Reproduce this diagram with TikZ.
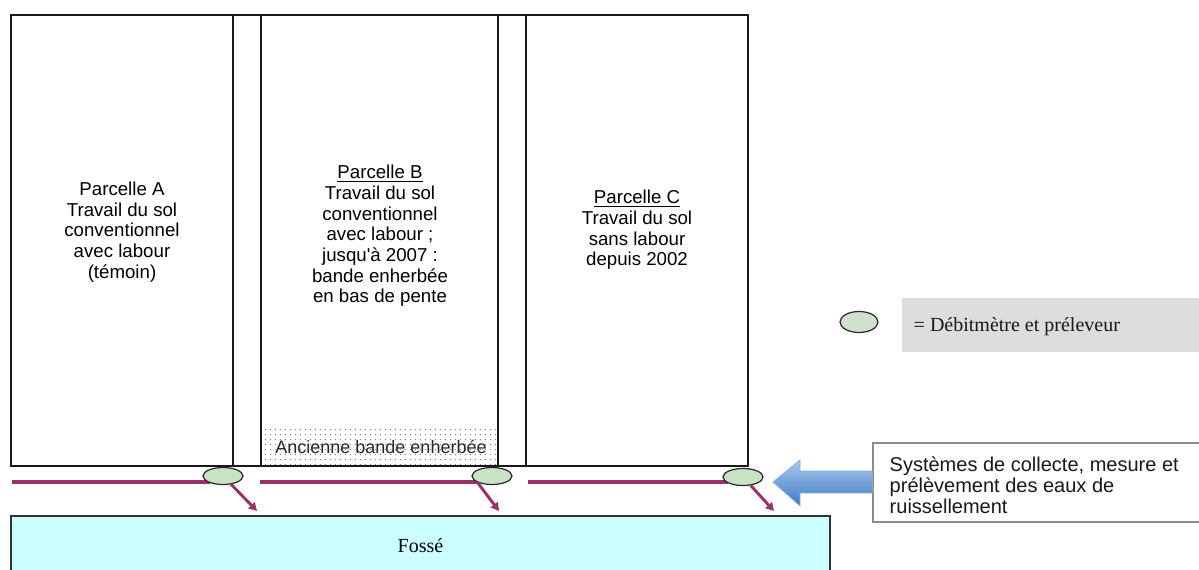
\documentclass[tikz,border=0pt]{standalone}
\usepackage{fontspec}
\setmainfont{Liberation Serif}
\newfontfamily\plotfont{Liberation Sans}
\usetikzlibrary{arrows.meta,patterns.meta,shapes.geometric}
\definecolor{fosse}{HTML}{CCFFFF}
\definecolor{runoff}{HTML}{993366}
\definecolor{sampler}{HTML}{C8E2C4}
\definecolor{legendgray}{HTML}{DDDDDD}
\definecolor{arrowtop}{HTML}{A9C9EE}
\definecolor{arrowbot}{HTML}{3E78C2}

\begin{document}
\begin{tikzpicture}[x=0.75pt,y=-0.75pt,
  parcel/.style={font=\plotfont\fontsize{14}{15.5}\selectfont,align=center,text=black},
  sampler/.style={ellipse,draw=black!85,line width=0.9pt,fill=sampler,minimum width=30pt,minimum height=12.75pt,inner sep=0pt},
  flow/.style={runoff,line width=2.4pt},
  outflow/.style={runoff,line width=2.2pt,-{Triangle[length=6pt,width=6.5pt]}},
  frame/.style={line width=1.9pt,black!90}]
\useasboundingbox (0,0) rectangle (1199,570);
\clip (0,0) rectangle (1199,570);
% old grass strip under parcel B
\fill[pattern={Dots[distance=4pt,radius=0.55pt]},pattern color=black!55] (261,428) rectangle (498,466);
\node[font=\plotfont\fontsize{13.5}{15}\selectfont,text=black!85] (oldstrip) at (381,447) {Ancienne bande enherbée};
% the three plots
\draw[frame] (11,15) rectangle (748,466);
\foreach \x in {233,261,498,526} \draw[frame] (\x,15) -- (\x,466);
\node[parcel] (txtA) at (122,232) {Parcelle A\\Travail du sol\\conventionnel\\avec labour\\(témoin)};
\node[parcel] (txtB) at (380,236) {\underline{Parcelle B}\\Travail du sol\\conventionnel\\avec labour ;\\jusqu'à 2007 :\\bande enherbée\\en bas de pente};
\node[parcel] (txtC) at (637,230) {\underline{Parcelle C}\\Travail du sol\\sans labour\\depuis 2002};
% ditch
\node[draw=black!80,line width=1.4pt,fill=fosse,minimum width=614.25pt,minimum height=45pt,font=\fontsize{15}{17}\selectfont] (fosse) at (420.5,546) {Fossé};
% runoff collection
\coordinate (fA) at (12,482);
\coordinate (fB) at (260,482);
\coordinate (fC) at (528,482);
\coordinate (oA) at (257,511);
\coordinate (oB) at (499,511);
\coordinate (oC) at (774,511);
\draw[flow] (fA) -- (210,482);
\draw[flow] (fB) -- (478,482);
\draw[flow] (fC) -- (728,482);
\node[sampler] (sA) at (223,476) {};
\node[sampler] (sB) at (492,476) {};
\node[sampler] (sC) at (743,477) {};
\draw[outflow] (sA) -- (oA);
\draw[outflow] (sB.south west) -- (oB);
\draw[outflow] (sC) -- (oC);
% note and arrow
\node[draw=black!45,line width=1pt,fill=white,minimum width=249pt,minimum height=59.25pt] (note) at (1039,482.5) {};
\node[anchor=west,align=left,font=\plotfont\fontsize{15}{15.75}\selectfont,text=black!90] (notetext) at (885,485) {Systèmes de collecte, mesure et\\prélèvement des eaux de\\ruissellement};
\shade[top color=arrowtop,bottom color=arrowbot,draw=arrowtop!70!arrowbot,line width=0.6pt]
  (note.west |- 0,471) -- (800,471) -- (800,460) -- (773,482) -- (800,506) -- (800,493) -- (note.west |- 0,493) -- cycle;
% legend
\node[sampler,fill=sampler!60!legendgray,minimum width=28.5pt,minimum height=15.75pt] (legendmark) at (859,322) {};
\node[fill=legendgray,minimum width=227.25pt,minimum height=40.5pt] (legendbox) at (1053.5,325) {};
\node[anchor=west,font=\fontsize{15}{17}\selectfont,text=black!90] (legendtext) at (909,327) {= Débitmètre et préleveur};
\end{tikzpicture}
\end{document}
